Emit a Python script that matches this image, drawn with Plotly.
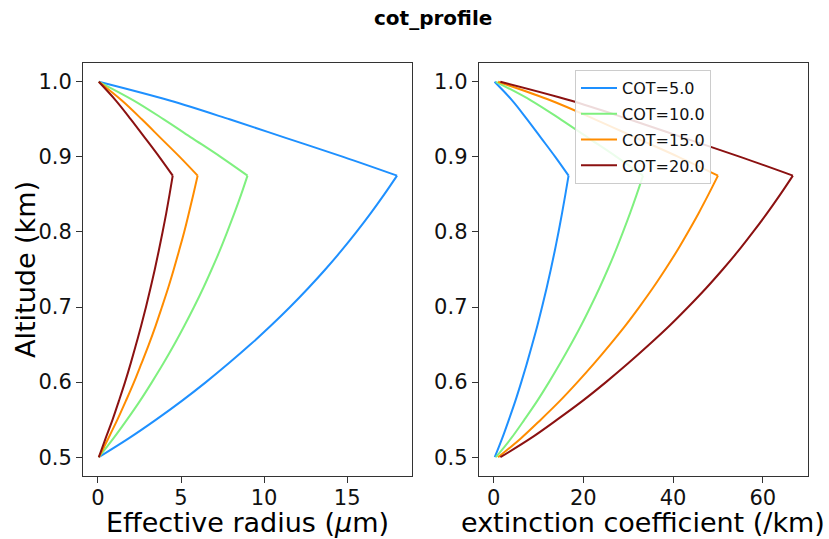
import plotly.graph_objects as go

# ---- data ----
altitude = [0.5, 0.525, 0.55, 0.575, 0.6, 0.625, 0.65, 0.675, 0.7, 0.725, 0.75,
            0.775, 0.8, 0.825, 0.85, 0.875, 0.9, 0.925, 0.95, 0.975, 1.0]
peak_index = 15  # altitude 0.875 km, where every profile turns

cot_labels = ["COT=5.0", "COT=10.0", "COT=15.0", "COT=20.0"]
colors = ["#1e90ff", "#7ff07f", "#ff8c00", "#8b1111"]

re_cot5 = [0.05, 1.85, 3.5, 5.05, 6.5, 7.87, 9.17, 10.4, 11.56, 12.65, 13.68,
           14.65, 15.56, 16.42, 17.23, 18.0, 14.76, 11.34, 7.92, 4.32, 0.05]
re_cot10 = [0.05, 0.93, 1.75, 2.53, 3.25, 3.94, 4.59, 5.2, 5.78, 6.33, 6.84,
            7.33, 7.78, 8.21, 8.62, 9.0, 7.38, 5.67, 3.96, 2.16, 0.05]
re_cot15 = [0.05, 0.62, 1.17, 1.68, 2.17, 2.62, 3.06, 3.47, 3.85, 4.22, 4.56,
            4.88, 5.19, 5.47, 5.74, 6.0, 4.92, 3.78, 2.64, 1.44, 0.05]
re_cot20 = [0.05, 0.46, 0.88, 1.26, 1.63, 1.97, 2.29, 2.6, 2.89, 3.16, 3.42,
            3.66, 3.89, 4.11, 4.31, 4.5, 3.69, 2.84, 1.98, 1.08, 0.05]

ext_cot5 = [0.25, 1.9, 3.4, 4.84, 6.16, 7.41, 8.6, 9.74, 10.79, 11.8, 12.74,
            13.63, 14.46, 15.25, 15.99, 16.7, 13.73, 10.6, 7.46, 4.16, 0.2]
ext_cot10 = [0.5, 3.88, 6.86, 9.72, 12.34, 14.83, 17.2, 19.46, 21.56, 23.56, 25.43,
             27.2, 28.84, 30.41, 31.89, 33.3, 27.4, 21.16, 14.93, 8.37, 0.5]
ext_cot15 = [1.0, 6.05, 10.51, 14.77, 18.69, 22.41, 25.94, 29.32, 32.46, 35.45, 38.24,
             40.89, 43.34, 45.69, 47.89, 50.0, 41.18, 31.87, 22.56, 12.76, 1.0]
ext_cot20 = [1.5, 8.22, 14.15, 19.82, 25.04, 29.99, 34.69, 39.19, 43.36, 47.34, 51.05,
             54.57, 57.83, 60.96, 63.9, 66.7, 54.96, 42.58, 30.19, 17.15, 1.5]

re_series = [re_cot5, re_cot10, re_cot15, re_cot20]
ext_series = [ext_cot5, ext_cot10, ext_cot15, ext_cot20]

y_ticks = [0.5, 0.6, 0.7, 0.8, 0.9, 1.0]
re_ticks = [0, 5, 10, 15]
ext_ticks = [0, 20, 40, 60]

# ---- figure ----
W, H = 829, 539
fig = go.Figure()


def add_profile(xvals, label, color, xa, ya, legend):
    # lower (cloud base to 0.875 km) and upper (0.875 km to top) parts, each smoothed
    segs = [(0, peak_index + 1), (peak_index, len(altitude))]
    for k, (a, b) in enumerate(segs):
        fig.add_trace(go.Scatter(
            x=xvals[a:b], y=altitude[a:b], mode="lines", name=label,
            legendgroup=label, showlegend=(legend and k == 0),
            line=dict(color=color, width=2, shape="spline", smoothing=1.0),
            xaxis=xa, yaxis=ya))


for lab, col, re in zip(cot_labels, colors, re_series):
    add_profile(re, lab, col, "x", "y", False)
for lab, col, ext in zip(cot_labels, colors, ext_series):
    add_profile(ext, lab, col, "x2", "y2", True)


def px_x(p):
    return p / W


def px_y(p):
    return 1 - p / H


axis_common = dict(showline=True, linecolor="#333333", linewidth=1, mirror=True,
                   ticks="outside", ticklen=6, tickcolor="#333333",
                   showgrid=False, zeroline=False,
                   tickfont=dict(family="DejaVu Sans", size=21, color="#111111"))

ydom = [px_y(476), px_y(63)]
fig.update_layout(
    width=W, height=H,
    margin=dict(l=0, r=0, t=0, b=0),
    paper_bgcolor="white", plot_bgcolor="white",
    xaxis=dict(domain=[px_x(83), px_x(412)], range=[-0.9, 18.9],
               tickvals=re_ticks, anchor="y", ticklabelstandoff=-3, **axis_common),
    yaxis=dict(domain=ydom, range=[0.475, 1.025], tickvals=y_ticks,
               tickformat=".1f", anchor="x", **axis_common),
    xaxis2=dict(domain=[px_x(478.7), px_x(807.7)], range=[-3.33, 70.0],
                tickvals=ext_ticks, anchor="y2", ticklabelstandoff=-3, **axis_common),
    yaxis2=dict(domain=ydom, range=[0.475, 1.025], tickvals=y_ticks,
                tickformat=".1f", anchor="x2", **axis_common),
    legend=dict(x=px_x(575), y=px_y(70), xanchor="left", yanchor="top",
                bgcolor="rgba(255,255,255,0.85)", bordercolor="#cccccc",
                borderwidth=1, font=dict(family="DejaVu Sans", size=16, color="#111111"),
                tracegroupgap=2, itemwidth=36),
    annotations=[
        dict(text="<b>cot_profile</b>", x=px_x(433.5), y=px_y(18), xref="paper", yref="paper",
             xanchor="center", yanchor="middle", showarrow=False,
             font=dict(family="DejaVu Sans", size=20, color="black")),
        dict(text="Effective radius (<i>μ</i>m)", x=px_x(247.5), y=px_y(540), xref="paper", yref="paper",
             xanchor="center", yanchor="bottom", showarrow=False,
             font=dict(family="DejaVu Sans", size=27, color="black")),
        dict(text="extinction coefficient (/km)", x=px_x(643), y=px_y(540), xref="paper", yref="paper",
             xanchor="center", yanchor="bottom", showarrow=False,
             font=dict(family="DejaVu Sans", size=27, color="black")),
        dict(text="Altitude (km)", x=px_x(25), y=px_y(270), xref="paper", yref="paper",
             xanchor="center", yanchor="middle", showarrow=False, textangle=-90,
             font=dict(family="DejaVu Sans", size=27, color="black")),
    ],
)

fig.write_html("out.html")
